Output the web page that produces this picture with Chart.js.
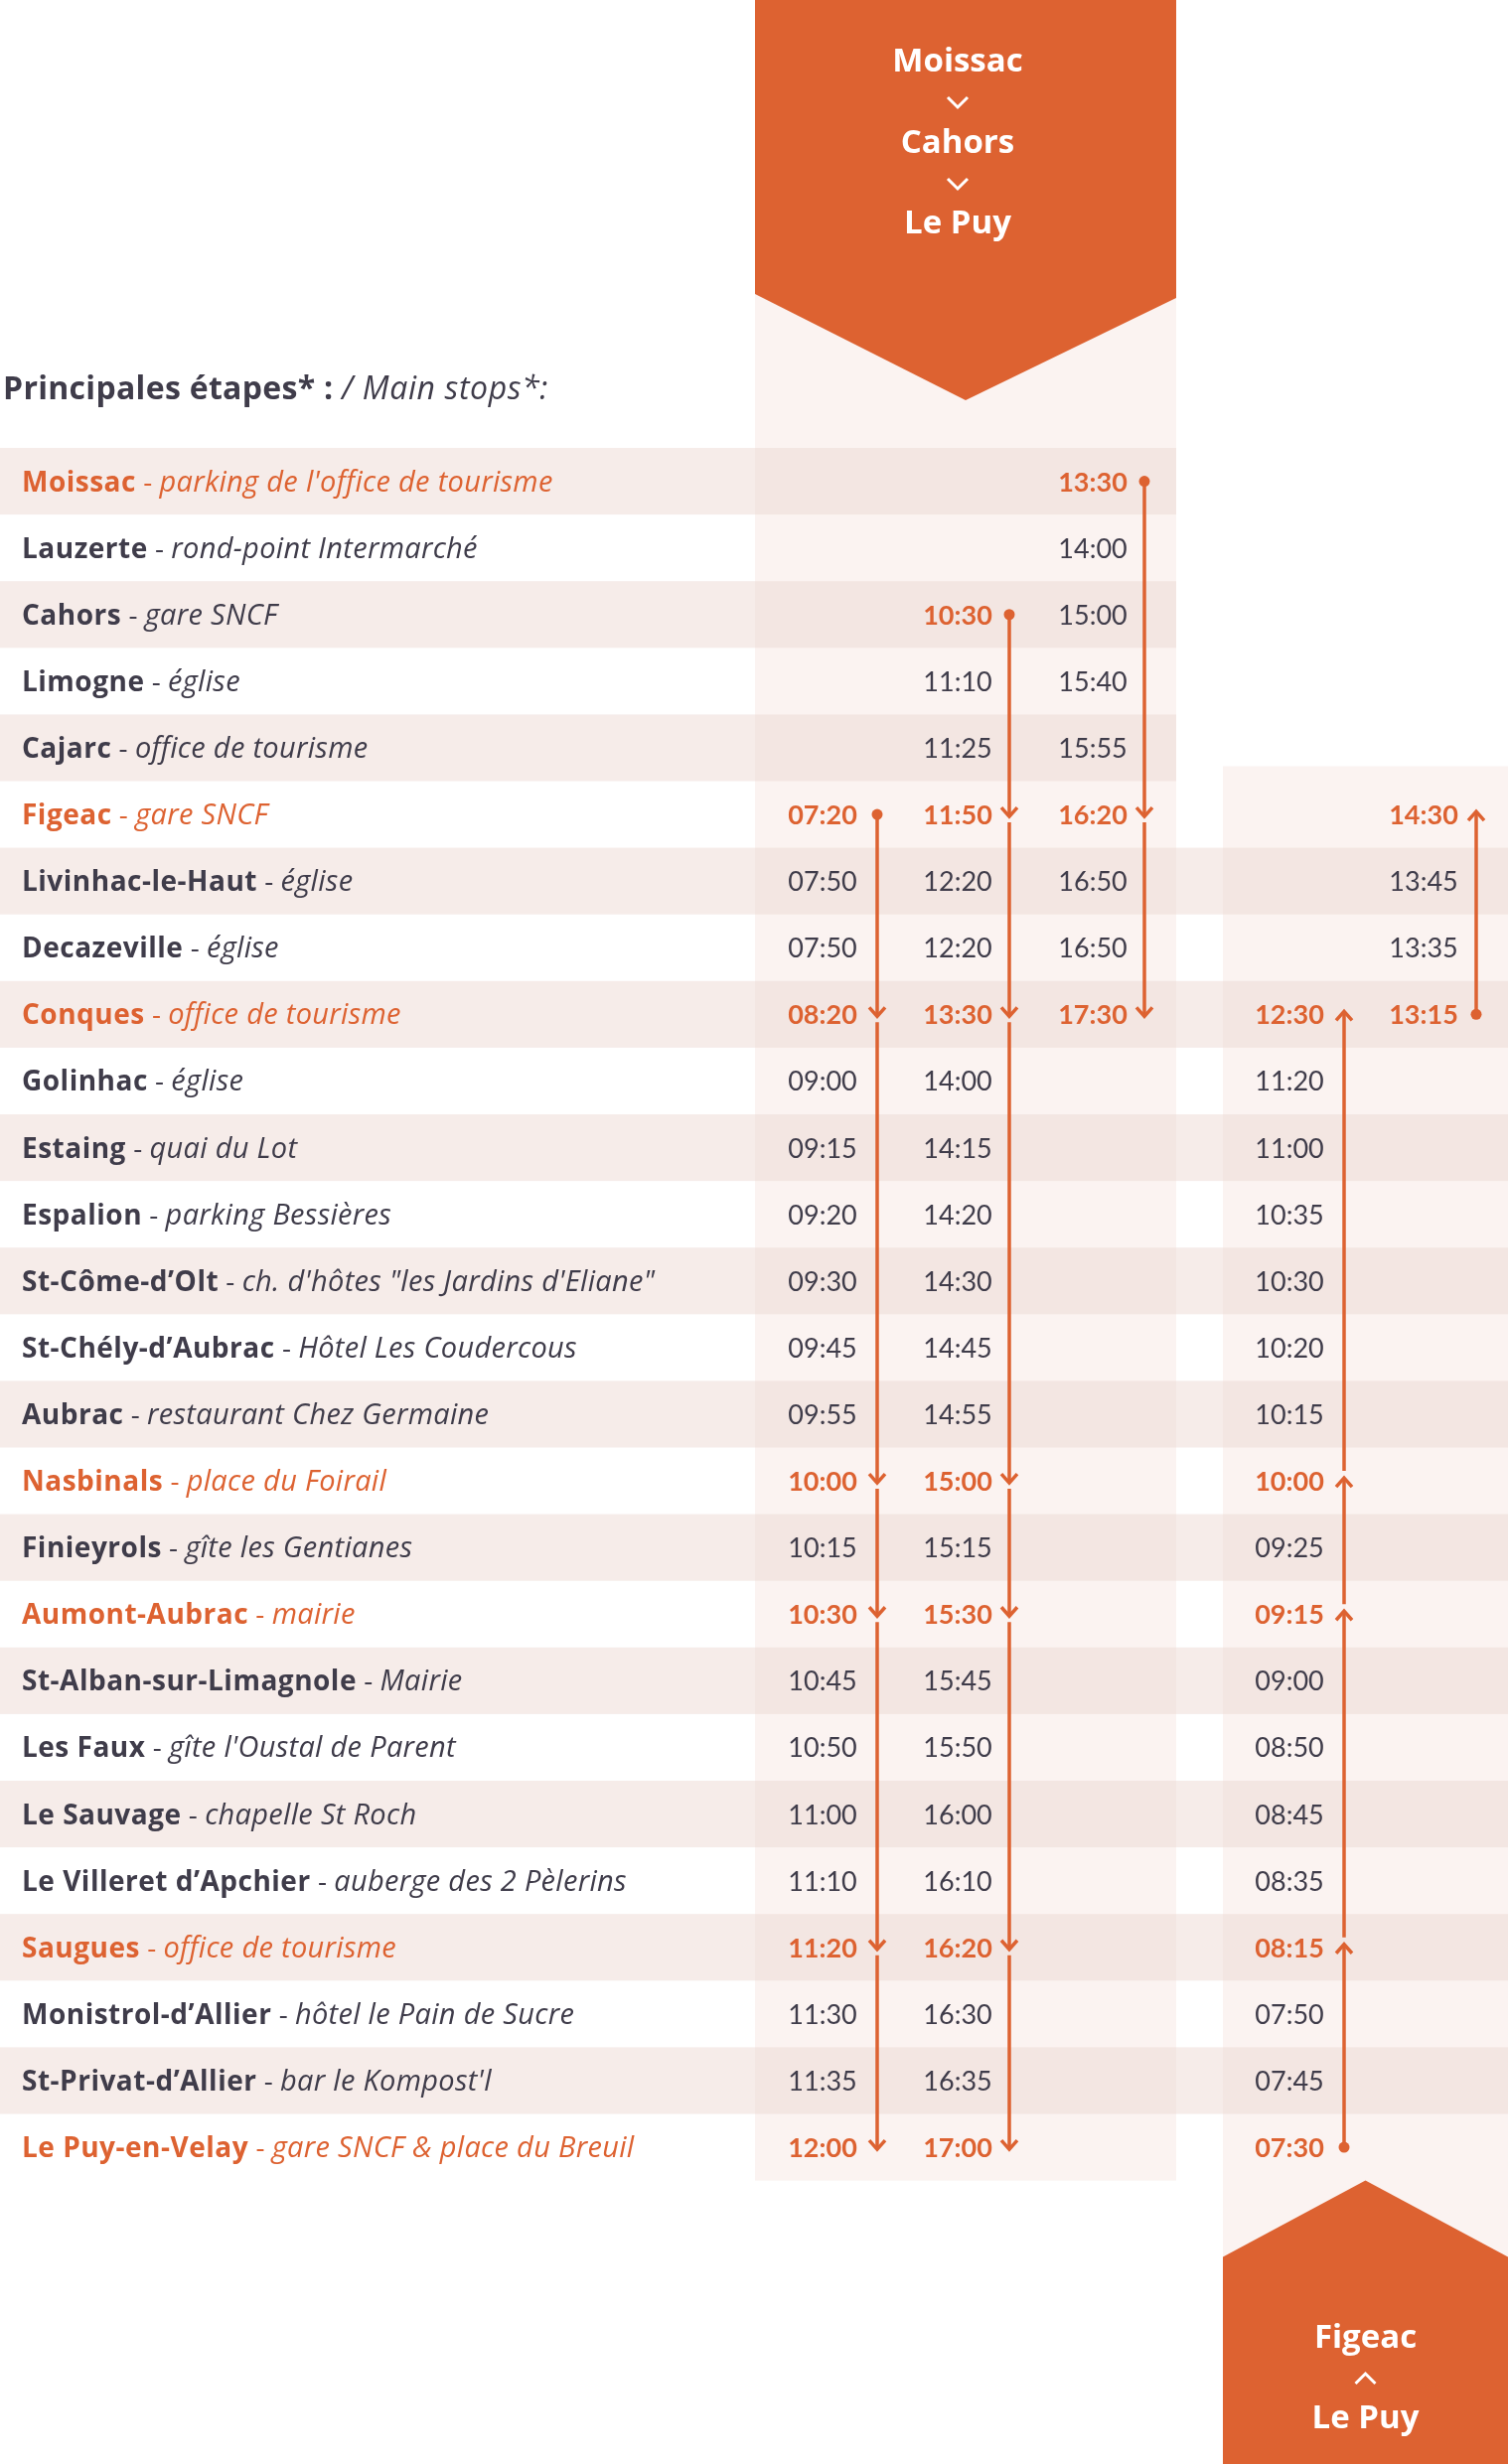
<!DOCTYPE html>
<html>
<head>
<meta charset="utf-8">
<title>Moissac - Cahors - Le Puy / Figeac - Le Puy</title>
<script src="https://cdn.jsdelivr.net/npm/chart.js@4.4.0/dist/chart.umd.min.js"></script>
<style>
  html, body { margin: 0; padding: 0; background: #fff; }
  #chart { display: block; }
</style>
</head>
<body>
<canvas id="chart" width="1518" height="2481"></canvas>
<script>
// Arrêts (ordre du trajet Moissac -> Le Puy)
const stops = ['Moissac', 'Lauzerte', 'Cahors', 'Limogne', 'Cajarc', 'Figeac', 'Livinhac-le-Haut', 'Decazeville',
  'Conques', 'Golinhac', 'Estaing', 'Espalion', 'St-Côme-d’Olt', 'St-Chély-d’Aubrac', 'Aubrac', 'Nasbinals',
  'Finieyrols', 'Aumont-Aubrac', 'St-Alban-sur-Limagnole', 'Les Faux', 'Le Sauvage', 'Le Villeret d’Apchier',
  'Saugues', 'Monistrol-d’Allier', 'St-Privat-d’Allier', 'Le Puy-en-Velay'];
const places = ["parking de l'office de tourisme", 'rond-point Intermarché', 'gare SNCF', 'église', 'office de tourisme',
  'gare SNCF', 'église', 'église', 'office de tourisme', 'église', 'quai du Lot', 'parking Bessières',
  'ch. d\'hôtes "les Jardins d\'Eliane"', 'Hôtel Les Coudercous', 'restaurant Chez Germaine', 'place du Foirail',
  'gîte les Gentianes', 'mairie', 'Mairie', "gîte l'Oustal de Parent", 'chapelle St Roch', 'auberge des 2 Pèlerins',
  'office de tourisme', 'hôtel le Pain de Sucre', "bar le Kompost'l", 'gare SNCF & place du Breuil'];
const mainStops = ['Moissac', 'Figeac', 'Conques', 'Nasbinals', 'Aumont-Aubrac', 'Saugues', 'Le Puy-en-Velay'];

// Horaires par colonne (null = pas d'arrêt)
const timesA = [null, null, null, null, null, '07:20', '07:50', '07:50', '08:20', '09:00', '09:15', '09:20', '09:30',
  '09:45', '09:55', '10:00', '10:15', '10:30', '10:45', '10:50', '11:00', '11:10', '11:20', '11:30', '11:35', '12:00'];
const timesB = [null, null, '10:30', '11:10', '11:25', '11:50', '12:20', '12:20', '13:30', '14:00', '14:15', '14:20',
  '14:30', '14:45', '14:55', '15:00', '15:15', '15:30', '15:45', '15:50', '16:00', '16:10', '16:20', '16:30', '16:35', '17:00'];
const timesC = ['13:30', '14:00', '15:00', '15:40', '15:55', '16:20', '16:50', '16:50', '17:30', null, null, null, null,
  null, null, null, null, null, null, null, null, null, null, null, null, null];
const timesD = [null, null, null, null, null, null, null, null, '12:30', '11:20', '11:00', '10:35', '10:30', '10:20',
  '10:15', '10:00', '09:25', '09:15', '09:00', '08:50', '08:45', '08:35', '08:15', '07:50', '07:45', '07:30'];
const timesE = [null, null, null, null, null, '14:30', '13:45', '13:35', '13:15', null, null, null, null, null, null,
  null, null, null, null, null, null, null, null, null, null, null];

// Arrêts principaux de chaque colonne (premier = départ, puis flèches)
const routeA = ['Figeac', 'Conques', 'Nasbinals', 'Aumont-Aubrac', 'Saugues', 'Le Puy-en-Velay'];
const routeB = ['Cahors', 'Figeac', 'Conques', 'Nasbinals', 'Aumont-Aubrac', 'Saugues', 'Le Puy-en-Velay'];
const routeC = ['Moissac', 'Figeac', 'Conques'];
const routeD = ['Le Puy-en-Velay', 'Saugues', 'Aumont-Aubrac', 'Nasbinals', 'Conques'];
const routeE = ['Conques', 'Figeac'];

// Layout (pixels)
const ORANGE = '#dd6231';
const DARK = '#3f3c4a';
const PANEL = '#fbf3f1';
const BAND = '#f6ece9';
const BAND_PANEL = '#f3e6e2';
const ROW_TOP = 451;
const ROW_H = 67.1;
const W = 1518, H = 2481;
const LEFT_PANEL = [760, 1184];
const RIGHT_PANEL = [1231, 1518];
const FONT = 'Lato, "Open Sans", sans-serif';
const LABEL_FONT = '"Open Sans", Lato, sans-serif';

const columns = [
  { times: timesA, route: routeA, textX: 828, lineX: 883 },
  { times: timesB, route: routeB, textX: 964, lineX: 1016 },
  { times: timesC, route: routeC, textX: 1100, lineX: 1152 },
  { times: timesD, route: routeD, textX: 1298, lineX: 1353 },
  { times: timesE, route: routeE, textX: 1433, lineX: 1486 }
];

const rightFirstRow = Math.min(timesD.findIndex(t => t), timesE.findIndex(t => t));

// datasets : horaires (points invisibles) + segments de ligne
const datasets = [];
columns.forEach((col, c) => {
  datasets.push({
    label: 'times' + c,
    isTimes: true,
    col: c,
    data: col.times.map((t, i) => t ? { x: col.textX, y: i, t: t, stop: stops[i] } : null).filter(Boolean),
    pointRadius: 0,
    showLine: false
  });
  const idx = col.route.map(s => stops.indexOf(s));
  for (let j = 0; j < idx.length - 1; j++) {
    const from = idx[j], to = idx[j + 1];
    const down = to > from;
    let start, end;
    if (down) {
      start = from + (j === 0 ? 0 : 8 / ROW_H);
      end = to + 2 / ROW_H;
    } else {
      start = from + (j === 0 ? 0 : -10 / ROW_H);
      end = to - 3 / ROW_H;
    }
    datasets.push({
      label: 'seg' + c + '-' + j,
      data: [{ x: col.lineX, y: start }, { x: col.lineX, y: end }],
      showLine: true,
      borderColor: ORANGE,
      borderWidth: 3.5,
      pointRadius: 0,
      fill: false
    });
  }
});

function chevron(ctx, cx, cy, up) {
  ctx.beginPath();
  if (up) {
    ctx.moveTo(cx - 10, cy + 5); ctx.lineTo(cx, cy - 5); ctx.lineTo(cx + 10, cy + 5);
  } else {
    ctx.moveTo(cx - 10, cy - 5); ctx.lineTo(cx, cy + 5); ctx.lineTo(cx + 10, cy - 5);
  }
  ctx.stroke();
}

const timetable = {
  id: 'timetable',
  beforeDatasetsDraw(chart) {
    const ctx = chart.ctx;
    const xs = chart.scales.x, ys = chart.scales.y;
    const px = v => xs.getPixelForValue(v);
    const rowTop = i => ys.getPixelForValue(i - 0.5);
    const rowBot = i => ys.getPixelForValue(i + 0.5);
    const rowMid = i => ys.getPixelForValue(i);

    ctx.save();
    ctx.fillStyle = '#fff';
    ctx.fillRect(0, 0, chart.width, chart.height);

    // panneaux
    const lastBot = rowBot(stops.length - 1);
    const rightTop = rowTop(rightFirstRow) - 15;
    ctx.fillStyle = PANEL;
    ctx.fillRect(px(LEFT_PANEL[0]), 0, px(LEFT_PANEL[1]) - px(LEFT_PANEL[0]), lastBot);
    ctx.fillRect(px(RIGHT_PANEL[0]), rightTop, px(RIGHT_PANEL[1]) - px(RIGHT_PANEL[0]), chart.height - rightTop);

    // bandes
    stops.forEach((s, i) => {
      if (i % 2) return;
      const t = rowTop(i), h = rowBot(i) - t;
      ctx.fillStyle = BAND;
      ctx.fillRect(0, t, px(LEFT_PANEL[0]), h);
      ctx.fillStyle = BAND_PANEL;
      ctx.fillRect(px(LEFT_PANEL[0]), t, px(LEFT_PANEL[1]) - px(LEFT_PANEL[0]), h);
      if (i >= rightFirstRow) {
        ctx.fillStyle = BAND;
        ctx.fillRect(px(LEFT_PANEL[1]), t, px(RIGHT_PANEL[0]) - px(LEFT_PANEL[1]), h);
        ctx.fillStyle = BAND_PANEL;
        ctx.fillRect(px(RIGHT_PANEL[0]), t, px(RIGHT_PANEL[1]) - px(RIGHT_PANEL[0]), h);
      }
    });

    // bloc orange du haut
    const l = px(LEFT_PANEL[0]), r = px(LEFT_PANEL[1]);
    ctx.fillStyle = ORANGE;
    ctx.beginPath();
    ctx.moveTo(l, 0); ctx.lineTo(r, 0); ctx.lineTo(r, 300); ctx.lineTo((l + r) / 2, 403); ctx.lineTo(l, 296);
    ctx.closePath(); ctx.fill();

    // bloc orange du bas
    const rl = px(RIGHT_PANEL[0]), rr = px(RIGHT_PANEL[1]);
    ctx.beginPath();
    ctx.moveTo(rl, lastBot + 77); ctx.lineTo((rl + rr) / 2, lastBot); ctx.lineTo(rr, lastBot + 77);
    ctx.lineTo(rr, chart.height); ctx.lineTo(rl, chart.height);
    ctx.closePath(); ctx.fill();

    // textes des blocs
    ctx.fillStyle = '#fff';
    ctx.strokeStyle = '#fff';
    ctx.lineWidth = 3;
    ctx.textAlign = 'center';
    ctx.textBaseline = 'alphabetic';
    ctx.font = 'bold 33px ' + LABEL_FONT;
    const hx = 964;
    ctx.fillText('Moissac', hx, 72);
    chevron(ctx, hx, 103, false);
    ctx.fillText('Cahors', hx, 154);
    chevron(ctx, hx, 185, false);
    ctx.fillText('Le Puy', hx, 235);
    const bx = (rl + rr) / 2;
    ctx.fillText('Figeac', bx, 2364);
    chevron(ctx, bx, 2395, true);
    ctx.fillText('Le Puy', bx, 2445);

    // titre
    ctx.textAlign = 'left';
    ctx.fillStyle = DARK;
    ctx.font = 'bold 32px ' + LABEL_FONT;
    ctx.letterSpacing = '0.3px';
    const t1 = 'Principales étapes* : ';
    ctx.fillText(t1, 3, 402);
    const w1 = ctx.measureText(t1).width;
    ctx.font = 'italic 400 32px ' + LABEL_FONT;
    ctx.letterSpacing = '0.6px';
    ctx.fillText('/ Main stops*:', 3 + w1, 402);
    ctx.letterSpacing = '0px';

    // noms des arrêts
    stops.forEach((s, i) => {
      const y = rowMid(i) + 10;
      const color = mainStops.includes(s) ? ORANGE : DARK;
      ctx.fillStyle = color;
      let x = 22;
      ctx.font = 'bold 28px ' + LABEL_FONT;
      ctx.letterSpacing = '0.5px';
      ctx.fillText(s, x, y);
      x += ctx.measureText(s).width;
      ctx.letterSpacing = '0px';
      ctx.font = '400 28px ' + LABEL_FONT;
      ctx.fillText(' - ', x, y);
      x += ctx.measureText(' - ').width;
      ctx.font = 'italic 400 29px ' + LABEL_FONT;
      ctx.letterSpacing = '0.3px';
      ctx.fillText(places[i], x, y);
      ctx.letterSpacing = '0px';
    });
    ctx.restore();
  },
  afterDatasetsDraw(chart) {
    const ctx = chart.ctx;
    const xs = chart.scales.x, ys = chart.scales.y;
    ctx.save();
    ctx.textAlign = 'center';
    ctx.textBaseline = 'alphabetic';

    // horaires
    chart.data.datasets.forEach((ds, d) => {
      if (!ds.isTimes) return;
      const col = columns[ds.col];
      const meta = chart.getDatasetMeta(d);
      meta.data.forEach((pt, k) => {
        const raw = ds.data[k];
        const key = col.route.includes(raw.stop);
        ctx.fillStyle = key ? ORANGE : DARK;
        ctx.font = (key ? 'bold ' : '') + '27px ' + FONT;
        ctx.fillText(raw.t, pt.x, pt.y + 10);
      });
    });

    // départs et flèches
    ctx.strokeStyle = ORANGE;
    ctx.fillStyle = ORANGE;
    ctx.lineWidth = 3.5;
    ctx.lineCap = 'butt';
    ctx.lineJoin = 'miter';
    columns.forEach(col => {
      const idx = col.route.map(s => stops.indexOf(s));
      const x = xs.getPixelForValue(col.lineX);
      idx.forEach((row, j) => {
        const cy = ys.getPixelForValue(row);
        if (j === 0) {
          ctx.beginPath();
          ctx.arc(x, cy, 5.5, 0, Math.PI * 2);
          ctx.fill();
          return;
        }
        const down = row > idx[j - 1];
        ctx.beginPath();
        if (down) {
          const tip = cy + 2;
          ctx.moveTo(x - 8, tip - 9); ctx.lineTo(x, tip); ctx.lineTo(x + 8, tip - 9);
        } else {
          const tip = cy - 3;
          ctx.moveTo(x - 8, tip + 9); ctx.lineTo(x, tip); ctx.lineTo(x + 8, tip + 9);
        }
        ctx.stroke();
      });
    });
    ctx.restore();
  }
};

new Chart(document.getElementById('chart'), {
  type: 'scatter',
  data: { datasets: datasets },
  options: {
    responsive: false,
    animation: false,
    devicePixelRatio: 1,
    layout: { padding: 0 },
    plugins: { legend: { display: false }, tooltip: { enabled: false }, title: { display: false } },
    scales: {
      x: { type: 'linear', min: 0, max: W, display: false },
      y: { type: 'linear', reverse: true, min: -ROW_TOP / ROW_H - 0.5, max: (H - ROW_TOP) / ROW_H - 0.5, display: false }
    }
  },
  plugins: [timetable]
});
</script>
</body>
</html>
